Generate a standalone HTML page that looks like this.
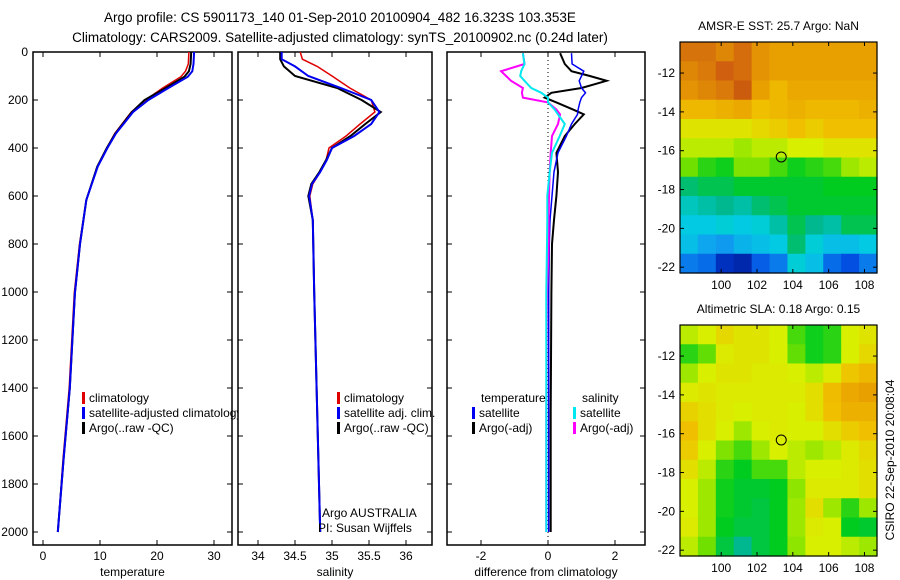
<!DOCTYPE html>
<html><head><meta charset="utf-8"><style>
html,body{margin:0;padding:0;background:#fff;}
svg{display:block;font-family:"Liberation Sans",sans-serif;}
</style></head><body>
<svg id="fig" width="900" height="580" viewBox="0 0 900 580">
<text x="340" y="22" font-size="13.5" text-anchor="middle">Argo profile: CS 5901173_140 01-Sep-2010 20100904_482 16.323S 103.353E</text>
<text x="340" y="42" font-size="13.5" text-anchor="middle">Climatology: CARS2009. Satellite-adjusted climatology: synTS_20100902.nc (0.24d later)</text>
</svg>
<script>
// ---------- data ----------
const tDepth=[0,50,80,103,150,200,250,339,400,478,617,800,1005,1400,1700,2000];
const tClim=[25.6,25.5,25.0,24.2,21.0,18.0,15.5,12.6,11.2,9.5,7.6,6.4,5.5,4.6,3.5,2.6];
const tSat=[26.5,26.4,26.2,25.4,22.0,18.5,15.8,12.8,11.3,9.6,7.6,6.5,5.6,4.7,3.6,2.6];
const tArgo=[26.0,25.9,25.6,24.8,21.5,17.8,15.6,12.7,11.2,9.5,7.6,6.5,5.6,4.7,3.6,2.6];
const sDepth=[0,30,60,100,150,200,250,300,350,400,450,500,550,600,700,1000,1500,2000];
const sClim=[34.57,34.6,34.8,35.0,35.24,35.53,35.58,35.38,35.19,34.96,34.92,34.84,34.74,34.70,34.74,34.76,34.8,34.84];
const sSat=[34.32,34.32,34.5,34.68,35.12,35.53,35.64,35.53,35.3,35.0,34.93,34.84,34.73,34.69,34.74,34.76,34.8,34.84];
const sArgo=[34.3,34.3,34.35,34.5,35.07,35.4,35.66,35.45,35.25,35.0,34.92,34.83,34.72,34.68,34.74,34.76,34.8,34.84];
const dDepth=[5,50,80,100,120,150,170,190,210,240,260,300,350,420,500,600,700,800,1000,1500,2000];
const dTempArgo=[0.36,0.5,0.7,1.25,1.75,1.0,0.1,-0.1,0.25,0.75,1.07,0.8,0.5,0.25,0.3,0.25,0.18,0.12,0.1,0.08,0.08];
const dTempSat=[0.7,0.72,1.07,1.0,0.93,1.0,1.12,1.0,0.95,0.9,0.88,0.7,0.55,0.3,0.18,0.12,0.06,0.04,0.02,0.02,0.02];
const dSalArgo=[-0.75,-0.7,-1.4,-1.25,-1.1,-0.75,-0.78,-0.75,0.0,0.25,0.36,0.3,0.12,0.08,0.05,0.03,0.02,0.02,-0.03,-0.05,-0.05];
const dSalSat=[-0.75,-0.7,-0.8,-0.83,-0.7,-0.5,-0.2,0.0,0.0,0.2,0.3,0.5,0.35,0.12,0.05,-0.02,-0.02,-0.03,-0.05,-0.05,-0.05];
const depthTicks=[0,200,400,600,800,1000,1200,1400,1600,1800,2000];
const tempTicks=[0,10,20,30];
const salTicks=[34,34.5,35,35.5,36];
const diffTicks=[-2,0,2];
const lonTicks=[100,102,104,106,108];
const latTicks=[-12,-14,-16,-18,-20,-22];
const argoLon=103.353, argoLat=-16.323;
const sstGrid=[
[0.85,0.85,0.82,0.86,0.8,0.78,0.78,0.78,0.78,0.78,0.78],
[0.82,0.84,0.88,0.86,0.8,0.78,0.78,0.78,0.78,0.78,0.78],
[0.8,0.82,0.84,0.9,0.78,0.72,0.76,0.76,0.76,0.76,0.76],
[0.72,0.72,0.74,0.76,0.7,0.72,0.74,0.72,0.72,0.72,0.74],
[0.64,0.64,0.64,0.64,0.66,0.68,0.7,0.68,0.7,0.7,0.7],
[0.6,0.6,0.6,0.58,0.6,0.6,0.62,0.62,0.64,0.64,0.64],
[0.55,0.5,0.48,0.56,0.56,0.52,0.48,0.5,0.52,0.58,0.6],
[0.42,0.44,0.44,0.46,0.46,0.46,0.46,0.46,0.47,0.47,0.47],
[0.36,0.38,0.4,0.38,0.42,0.44,0.46,0.46,0.46,0.46,0.46],
[0.32,0.32,0.34,0.32,0.34,0.38,0.44,0.4,0.38,0.44,0.44],
[0.3,0.26,0.24,0.28,0.3,0.32,0.42,0.34,0.3,0.3,0.32],
[0.2,0.18,0.08,0.06,0.16,0.2,0.34,0.3,0.18,0.14,0.2]];
const slaGrid=[
[0.6,0.62,0.66,0.64,0.64,0.62,0.52,0.48,0.5,0.62,0.64],
[0.5,0.54,0.63,0.64,0.64,0.62,0.54,0.48,0.5,0.62,0.66],
[0.58,0.62,0.64,0.64,0.63,0.63,0.62,0.6,0.63,0.69,0.72],
[0.63,0.64,0.63,0.63,0.63,0.63,0.63,0.65,0.71,0.76,0.78],
[0.67,0.65,0.63,0.62,0.63,0.63,0.62,0.65,0.7,0.74,0.74],
[0.7,0.65,0.62,0.58,0.62,0.63,0.62,0.62,0.65,0.68,0.7],
[0.68,0.62,0.56,0.52,0.58,0.62,0.6,0.58,0.6,0.63,0.66],
[0.65,0.6,0.5,0.47,0.52,0.52,0.6,0.62,0.62,0.63,0.65],
[0.62,0.58,0.48,0.46,0.46,0.47,0.57,0.63,0.63,0.63,0.65],
[0.62,0.58,0.48,0.46,0.45,0.47,0.58,0.65,0.58,0.5,0.58],
[0.63,0.58,0.47,0.45,0.45,0.47,0.58,0.63,0.62,0.47,0.46],
[0.6,0.55,0.45,0.4,0.45,0.47,0.57,0.62,0.62,0.6,0.58]];

// ---------- helpers ----------
const NS="http://www.w3.org/2000/svg";
const svg=document.getElementById('fig');
function mk(tag,attrs,parent){const e=document.createElementNS(NS,tag);for(const k in attrs)e.setAttribute(k,attrs[k]);(parent||svg).appendChild(e);return e;}
const PT=52,PB=545;
const yD=d=>PT+0.24*d;
function lin(d0,d1,r0,r1){return v=>r0+(v-d0)*(r1-r0)/(d1-d0);}

function panel(name,x0,x1,xs,ticks,fmt,xlabel,showY){
  const g=mk('g',{});
  
  
  mk('rect',{x:x0,y:PT,width:x1-x0,height:PB-PT,fill:'#fff',stroke:'#000','stroke-width':1.5},g);
  depthTicks.forEach(d=>{
    const y=yD(d);
    mk('line',{x1:x0,y1:y,x2:x0+5,y2:y,stroke:'#000'},g);
    mk('line',{x1:x1-5,y1:y,x2:x1,y2:y,stroke:'#000'},g);
    if(showY){const t=mk('text',{x:x0-5,y:y+4,'font-size':12,'text-anchor':'end'},g);t.textContent=d;
      }
  });
  ticks.forEach(v=>{
    const x=xs(v);
    mk('line',{x1:x,y1:PB,x2:x,y2:PB-5,stroke:'#000'},g);
    mk('line',{x1:x,y1:PT,x2:x,y2:PT+5,stroke:'#000'},g);
    const t=mk('text',{x:x,y:PB+15,'font-size':12,'text-anchor':'middle'},g);t.textContent=fmt(v);
    
  });
  const lab=mk('text',{x:(x0+x1)/2,y:PB+31,'font-size':12,'text-anchor':'middle'},g);lab.textContent=xlabel;
  
  return g;
}
function series(g,name,depths,vals,xs,color,w){
  const pts=depths.map((d,i)=>xs(vals[i]).toFixed(1)+','+yD(d).toFixed(1)).join(' ');
  const p=mk('polyline',{points:pts,fill:'none',stroke:color,'stroke-width':w},g);
  
  
}
function legend(g,x,y,color,label,name){
  mk('rect',{x:x,y:y-10,width:3,height:12,fill:color},g);
  const t=mk('text',{x:x+7,y:y,'font-size':12},g);t.textContent=label;
  
}

// panel 1 temperature
const xT=lin(0,20,43,157);
const g1=panel('temperature-panel',33,232,xT,tempTicks,v=>v,'temperature',true);
series(g1,'temp-climatology-line',tDepth,tClim,xT,'#e00000',1.5);
series(g1,'temp-argo-line',tDepth,tArgo,xT,'#000',2);
series(g1,'temp-satellite-line',tDepth,tSat,xT,'#0000f0',2);
legend(g1,82,402,'#e00000','climatology','legend-climatology');
legend(g1,82,417,'#0000f0','satellite-adjusted climatology','legend-satellite-adjusted');
legend(g1,82,432,'#000','Argo(..raw -QC)','legend-argo');

// panel 2 salinity
const xS=lin(34,36,258,406);
const g2=panel('salinity-panel',238,432,xS,salTicks,v=>v,'salinity',false);
series(g2,'sal-climatology-line',sDepth,sClim,xS,'#e00000',1.5);
series(g2,'sal-argo-line',sDepth,sArgo,xS,'#000',2);
series(g2,'sal-satellite-line',sDepth,sSat,xS,'#0000f0',2);
legend(g2,337,402,'#e00000','climatology','legend-sal-climatology');
legend(g2,337,417,'#0000f0','satellite adj. clim.','legend-sal-satellite');
legend(g2,337,432,'#000','Argo(..raw -QC)','legend-sal-argo');
{const t=mk('text',{x:322,y:517,'font-size':12},g2);t.textContent='Argo AUSTRALIA';
 const t2=mk('text',{x:318,y:532,'font-size':12},g2);t2.textContent='PI: Susan Wijffels';}

// panel 3 differences
const xDf=lin(-2,2,481,615);
const g3=panel('difference-panel',447,645,xDf,diffTicks,v=>v,'difference from climatology',false);
mk('line',{x1:xDf(0),y1:PT,x2:xDf(0),y2:PB,stroke:'#000','stroke-dasharray':'1,3'},g3);
series(g3,'diff-temp-argo-line',dDepth,dTempArgo,xDf,'#000',2);
series(g3,'diff-temp-satellite-line',dDepth,dTempSat,xDf,'#0000f0',1.5);
series(g3,'diff-sal-argo-line',dDepth,dSalArgo,xDf,'#ff00ff',2);
series(g3,'diff-sal-satellite-line',dDepth,dSalSat,xDf,'#00e8f0',2);
{const t=mk('text',{x:481,y:402,'font-size':12},g3);t.textContent='temperature';
 const t2=mk('text',{x:582,y:402,'font-size':12},g3);t2.textContent='salinity';}
legend(g3,472,417,'#0000f0','satellite','legend-temp-satellite');
legend(g3,472,432,'#000','Argo(-adj)','legend-temp-argo');
legend(g3,573,417,'#00e8f0','satellite','legend-sal-satellite-diff');
legend(g3,573,432,'#ff00ff','Argo(-adj)','legend-sal-argo-diff');

// maps
const stops=[[0,[0,16,122]],[0.12,[0,64,224]],[0.25,[16,160,240]],[0.33,[0,208,224]],[0.4,[0,184,144]],[0.47,[0,204,32]],[0.55,[112,224,0]],[0.62,[216,240,0]],[0.7,[240,192,0]],[0.78,[232,160,0]],[0.88,[208,96,16]],[1,[176,64,0]]];
function cmap(v){for(let i=1;i<stops.length;i++){if(v<=stops[i][0]){const a=stops[i-1],b=stops[i],f=(v-a[0])/(b[0]-a[0]);
  const c=a[1].map((x,k)=>Math.round(x+(b[1][k]-x)*f));return `rgb(${c[0]},${c[1]},${c[2]})`;}}return 'rgb(176,64,0)';}
const LON0=97.7,LON1=108.7,LAT0=-10.4,LAT1=-22.3;
function map(name,grid,top,title,titleName){
  const L=680,R=877,B=top+231;
  const xs=lin(LON0,LON1,L,R), ys=lin(LAT0,LAT1,top,B);
  const g=mk('g',{});
  
  
  const nr=grid.length,nc=grid[0].length;
  const dLon=(LON1-LON0)/nc,dLat=(LAT1-LAT0)/nr;
  grid.forEach((row,r)=>row.forEach((v,c)=>{
    const x=xs(LON0+c*dLon),y=ys(LAT0+r*dLat);
    const cell=mk('rect',{x:x,y:y,width:xs(LON0+(c+1)*dLon)-x+0.6,height:ys(LAT0+(r+1)*dLat)-y+0.6,fill:cmap(v)},g);
    
    
  }));
  mk('rect',{x:L,y:top,width:R-L,height:B-top,fill:'none',stroke:'#000','stroke-width':1.2},g);
  lonTicks.forEach(v=>{const x=xs(v);mk('line',{x1:x,y1:B,x2:x,y2:B-4,stroke:'#000'},g);mk('line',{x1:x,y1:top,x2:x,y2:top+4,stroke:'#000'},g);
    const t=mk('text',{x:x,y:B+16,'font-size':12,'text-anchor':'middle'},g);t.textContent=v;});
  latTicks.forEach(v=>{const y=ys(v);mk('line',{x1:L,y1:y,x2:L+4,y2:y,stroke:'#000'},g);mk('line',{x1:R,y1:y,x2:R-4,y2:y,stroke:'#000'},g);
    const t=mk('text',{x:L-5,y:y+4,'font-size':12,'text-anchor':'end'},g);t.textContent=v;});
  const c=mk('circle',{cx:xs(argoLon),cy:ys(argoLat),r:5,fill:'none',stroke:'#000'},g);
  
  const t=mk('text',{x:(L+R)/2,y:top-12,'font-size':12,'text-anchor':'middle'},g);t.textContent=title;
  
}
map('sst-map',sstGrid,42,'AMSR-E SST: 25.7 Argo: NaN','sst-map-title');
map('sla-map',slaGrid,325,'Altimetric SLA: 0.18 Argo: 0.15','sla-map-title');
{const t=mk('text',{x:0,y:0,'font-size':12,'text-anchor':'middle',transform:'translate(894,460) rotate(-90)'});
 t.textContent='CSIRO 22-Sep-2010 20:08:04';}
</script>
</body></html>
